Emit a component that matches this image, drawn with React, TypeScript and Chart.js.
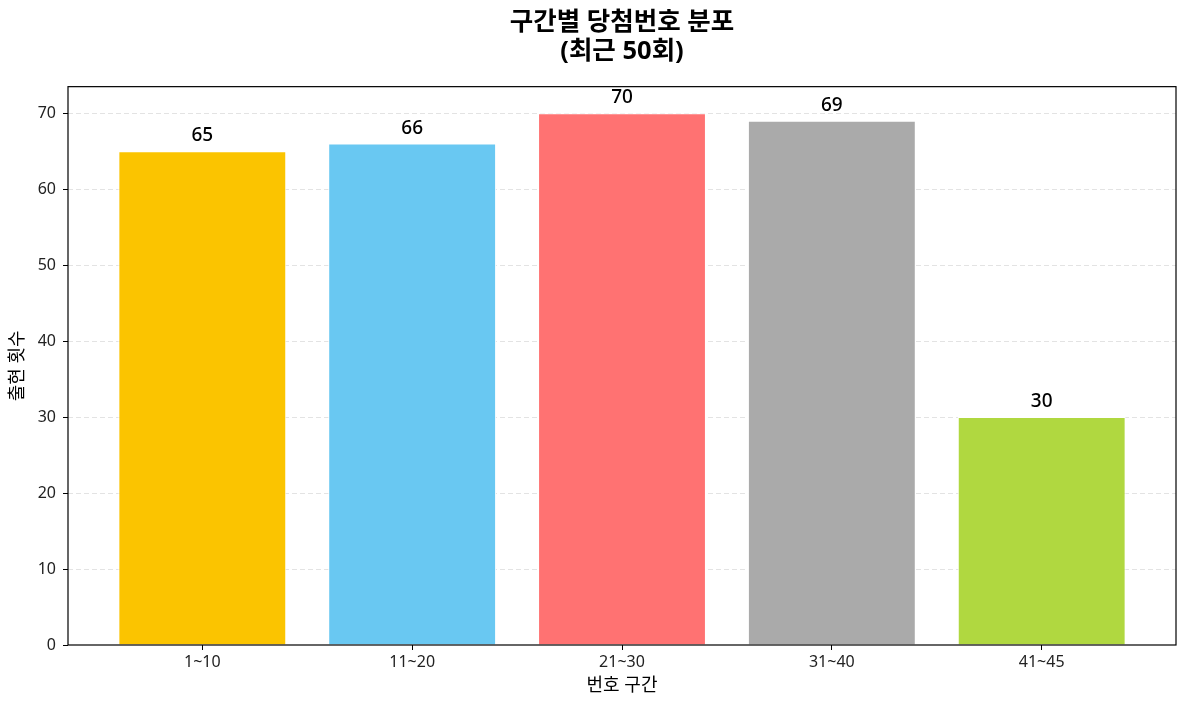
import React, { useEffect, useRef } from "react";
import { Chart, registerables } from "chart.js";

Chart.register(...registerables);

const categories: string[] = ["1~10", "11~20", "21~30", "31~40", "41~45"];
const counts: number[] = [65, 66, 70, 69, 30];
const barColors: string[] = ["#FBC400", "#69C8F2", "#FF7272", "#AAAAAA", "#B0D840"];
const yTicks: number[] = [0, 10, 20, 30, 40, 50, 60, 70];
const titleLines: string[] = ["구간별 당첨번호 분포", "(최근 50회)"];
const xAxisTitle = "번호 구간";
const yAxisTitle = "출현 횟수";

const FONT = "'Noto Sans', 'Noto Sans CJK KR', sans-serif";

const framePlugin = {
  id: "frameAndLabels",
  beforeDatasetsDraw(chart: any) {
    const { ctx, chartArea, scales } = chart;
    const y = scales.y;
    ctx.save();
    ctx.strokeStyle = "#e3e3e3";
    ctx.lineWidth = 1;
    ctx.setLineDash([5, 3]);
    yTicks.forEach((v) => {
      if (v === 0) return;
      const py = Math.round(y.getPixelForValue(v)) + 0.5;
      ctx.beginPath();
      ctx.moveTo(chartArea.left, py);
      ctx.lineTo(chartArea.right, py);
      ctx.stroke();
    });
    ctx.restore();
  },
  afterDatasetsDraw(chart: any) {
    const { ctx, chartArea } = chart;
    const meta = chart.getDatasetMeta(0);
    ctx.save();
    ctx.fillStyle = "#000";
    ctx.font = `500 19px ${FONT}`;
    ctx.textAlign = "center";
    ctx.textBaseline = "alphabetic";
    meta.data.forEach((bar: any, i: number) => {
      ctx.fillText(String(counts[i]), bar.x, bar.y - 10);
    });
    ctx.strokeStyle = "#000";
    ctx.lineWidth = 1.2;
    ctx.setLineDash([]);
    ctx.strokeRect(
      chartArea.left,
      chartArea.top,
      chartArea.right - chartArea.left,
      chartArea.bottom - chartArea.top
    );
    ctx.restore();
  },
};

export default function App() {
  const ref = useRef<HTMLCanvasElement | null>(null);

  useEffect(() => {
    if (!ref.current) return;
    const chart = new Chart(ref.current, {
      type: "bar",
      data: {
        datasets: [
          {
            data: counts.map((c, i) => ({ x: i, y: c })),
            backgroundColor: barColors,
            borderColor: "#ffffff",
            borderWidth: 1,
            borderSkipped: "bottom",
            categoryPercentage: 1,
            barPercentage: 0.8,
          },
        ],
      },
      options: {
        animation: false,
        responsive: false,
        devicePixelRatio: 1,
        layout: { padding: { top: 0, right: 11, bottom: 0, left: 0 } },
        plugins: {
          legend: { display: false },
          tooltip: { enabled: false },
          title: {
            display: true,
            fullSize: false,
            text: titleLines,
            color: "#000",
            font: { family: FONT, size: 25.5, weight: "bold", lineHeight: 1.15 },
            padding: { top: 8, bottom: 20 },
          },
        },
        scales: {
          x: {
            type: "linear",
            offset: false,
            min: -0.64,
            max: 4.64,
            afterBuildTicks: (scale: any) => {
              scale.ticks = categories.map((_, i) => ({ value: i }));
            },
            afterFit: (scale: any) => {
              scale.height = 64;
            },
            ticks: {
              callback: (v: any) => categories[Math.round(Number(v))] ?? "",
              color: "#222",
              font: { family: FONT, size: 16 },
              padding: 3,
              maxRotation: 0,
              autoSkip: false,
            },
            grid: {
              offset: false,
              drawOnChartArea: false,
              drawTicks: true,
              tickLength: 5,
              tickColor: "#000",
              tickWidth: 1,
            },
            border: { display: false },
            title: {
              display: true,
              text: xAxisTitle,
              color: "#000",
              font: { family: FONT, size: 18 },
              padding: { top: 0, bottom: 12 },
            },
          },
          y: {
            type: "linear",
            min: 0,
            max: 73.5,
            afterBuildTicks: (scale: any) => {
              scale.ticks = yTicks.map((v) => ({ value: v }));
            },
            afterFit: (scale: any) => {
              scale.width = 68;
            },
            ticks: {
              color: "#222",
              font: { family: FONT, size: 16 },
              padding: 7,
            },
            grid: {
              drawOnChartArea: false,
              drawTicks: true,
              tickLength: 5,
              tickColor: "#000",
              tickWidth: 1,
            },
            border: { display: false },
            title: {
              display: true,
              text: yAxisTitle,
              color: "#000",
              font: { family: FONT, size: 18 },
              padding: { top: 7, bottom: 0 },
            },
          },
        },
      },
      plugins: [framePlugin],
    });
    return () => chart.destroy();
  }, []);

  return (
    <div style={{ position: "fixed", left: 0, top: 0, width: 1187, height: 709, background: "#fff" }}>
      <canvas ref={ref} width={1187} height={709} style={{ width: 1187, height: 709 }} />
    </div>
  );
}
